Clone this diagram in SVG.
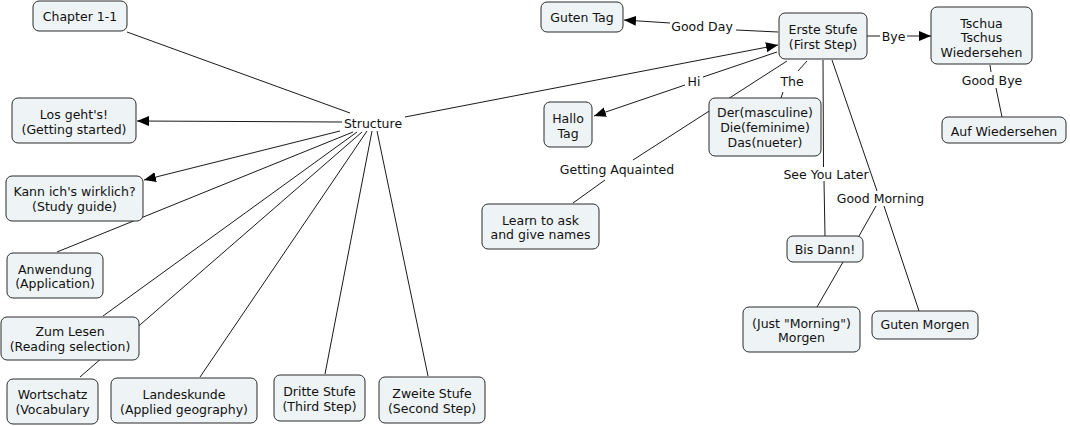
<svg xmlns="http://www.w3.org/2000/svg" width="1070" height="426" viewBox="0 0 1070 426">
<style>
.n rect{fill:#eef3f5;stroke:#2a2a2a;stroke-width:1}
text{font-family:"DejaVu Sans",Verdana,sans-serif;font-size:12.5px;fill:#111;text-anchor:middle}
.c line{stroke:#1a1a1a;stroke-width:1;fill:none}
</style>
<defs>
<marker id="ah" markerUnits="userSpaceOnUse" markerWidth="13" markerHeight="10" refX="12" refY="5" orient="auto">
<path d="M0,0 L12,5 L0,10 z" fill="#000"/>
</marker>
</defs>
<rect width="1070" height="426" fill="#fff"/>
<g class="c" id="connectors">
<line x1="127" y1="32" x2="350" y2="113"/>
<line x1="342" y1="122" x2="137" y2="121" marker-end="url(#ah)"/>
<line x1="340" y1="131" x2="144" y2="180" marker-end="url(#ah)"/>
<line x1="353" y1="132" x2="57" y2="252"/>
<line x1="357" y1="132" x2="103" y2="316"/>
<line x1="362" y1="132" x2="80" y2="377"/>
<line x1="367" y1="131" x2="200" y2="377"/>
<line x1="372" y1="131" x2="325" y2="374"/>
<line x1="377" y1="131" x2="428" y2="376"/>
<line x1="405" y1="117" x2="778" y2="45" marker-end="url(#ah)"/>
<line x1="778" y1="32" x2="736" y2="30"/>
<line x1="670" y1="23" x2="624" y2="20" marker-end="url(#ah)"/>
<line x1="777" y1="52" x2="703" y2="77"/>
<line x1="685" y1="85" x2="594" y2="116" marker-end="url(#ah)"/>
<line x1="807" y1="61" x2="798" y2="71"/>
<line x1="783" y1="92" x2="781" y2="98"/>
<line x1="787" y1="61" x2="633" y2="160"/>
<line x1="605" y1="180" x2="573" y2="203"/>
<line x1="867" y1="36" x2="880" y2="36"/>
<line x1="907" y1="36" x2="931" y2="36" marker-end="url(#ah)"/>
<line x1="990" y1="65" x2="991" y2="72"/>
<line x1="996" y1="88" x2="1002" y2="117"/>
<line x1="823" y1="60" x2="823.5" y2="167"/>
<line x1="824" y1="181" x2="825" y2="236"/>
<line x1="832" y1="60" x2="877" y2="191"/>
<line x1="884" y1="206" x2="919" y2="311"/>
<line x1="876" y1="206" x2="859" y2="236"/>
<line x1="843" y1="262" x2="817" y2="307"/>
</g>
<g id="labels">
<text x="373" y="127.5">Structure</text>
<text x="702" y="30.5">Good Day</text>
<text x="694" y="85.5">Hi</text>
<text x="792" y="85.5">The</text>
<text x="617" y="173.5">Getting Aquainted</text>
<text x="893.5" y="40.5">Bye</text>
<text x="992" y="84.5">Good Bye</text>
<text x="826" y="178.5">See You Later</text>
<text x="880.5" y="202.5">Good Morning</text>
</g>
<g class="n" id="chapter"><rect x="33" y="1" width="94" height="30" rx="6"/><text x="80" y="20.5">Chapter 1-1</text></g>
<g class="n" id="losgehts"><rect x="12" y="98" width="124" height="45" rx="6"/><text x="74" y="118.5">Los geht's!</text><text x="74" y="133.5">(Getting started)</text></g>
<g class="n" id="kann"><rect x="6" y="176" width="137" height="45" rx="6"/><text x="74.5" y="195.5">Kann ich's wirklich?</text><text x="74.5" y="210.5">(Study guide)</text></g>
<g class="n" id="anwendung"><rect x="7" y="253" width="96" height="45" rx="6"/><text x="55" y="273.5">Anwendung</text><text x="55" y="288">(Application)</text></g>
<g class="n" id="zumlesen"><rect x="1" y="317" width="138" height="43" rx="6"/><text x="70" y="335.5">Zum Lesen</text><text x="70" y="350.5">(Reading selection)</text></g>
<g class="n" id="wortschatz"><rect x="7" y="379" width="91" height="45" rx="6"/><text x="52.5" y="398.5">Wortschatz</text><text x="52.5" y="413.5">(Vocabulary</text></g>
<g class="n" id="landeskunde"><rect x="111" y="378" width="146" height="45" rx="6"/><text x="184" y="398.5">Landeskunde</text><text x="184" y="413.5">(Applied geography)</text></g>
<g class="n" id="dritte"><rect x="274" y="375" width="91" height="46" rx="6"/><text x="319.5" y="395.5">Dritte Stufe</text><text x="319.5" y="410.5">(Third Step)</text></g>
<g class="n" id="zweite"><rect x="379" y="377" width="106" height="46" rx="6"/><text x="432" y="397.5">Zweite Stufe</text><text x="432" y="412.5">(Second Step)</text></g>
<g class="n" id="gutentag"><rect x="541" y="2" width="82" height="30" rx="6"/><text x="582" y="21.5">Guten Tag</text></g>
<g class="n" id="erste"><rect x="779" y="13" width="88" height="46" rx="6"/><text x="823" y="33.5">Erste Stufe</text><text x="823" y="48.5">(First Step)</text></g>
<g class="n" id="hallo"><rect x="544" y="102" width="48" height="45" rx="6"/><text x="568" y="122.5">Hallo</text><text x="568" y="137.5">Tag</text></g>
<g class="n" id="der"><rect x="709" y="98" width="112" height="58" rx="6"/><text x="765" y="116.5">Der(masculine)</text><text x="765" y="131.5">Die(feminime)</text><text x="765" y="146.5">Das(nueter)</text></g>
<g class="n" id="learn"><rect x="482" y="204" width="117" height="45" rx="6"/><text x="540.5" y="224.5">Learn to ask</text><text x="540.5" y="239">and give names</text></g>
<g class="n" id="tschua"><rect x="931" y="7" width="101" height="57" rx="6"/><text x="981.5" y="27.5">Tschua</text><text x="981.5" y="42">Tschus</text><text x="981.5" y="56.5">Wiedersehen</text></g>
<g class="n" id="aufwiedersehen"><rect x="942" y="117" width="124" height="26" rx="6"/><text x="1004" y="136">Auf Wiedersehen</text></g>
<g class="n" id="bisdann"><rect x="787" y="236" width="76" height="26" rx="6"/><text x="825" y="253.5">Bis Dann!</text></g>
<g class="n" id="justmorgen"><rect x="743" y="307" width="117" height="45" rx="6"/><text x="801.5" y="327.5">(Just "Morning")</text><text x="801.5" y="341.5">Morgen</text></g>
<g class="n" id="gutenmorgen"><rect x="872" y="311" width="106" height="28" rx="6"/><text x="925" y="329">Guten Morgen</text></g>
</svg>
